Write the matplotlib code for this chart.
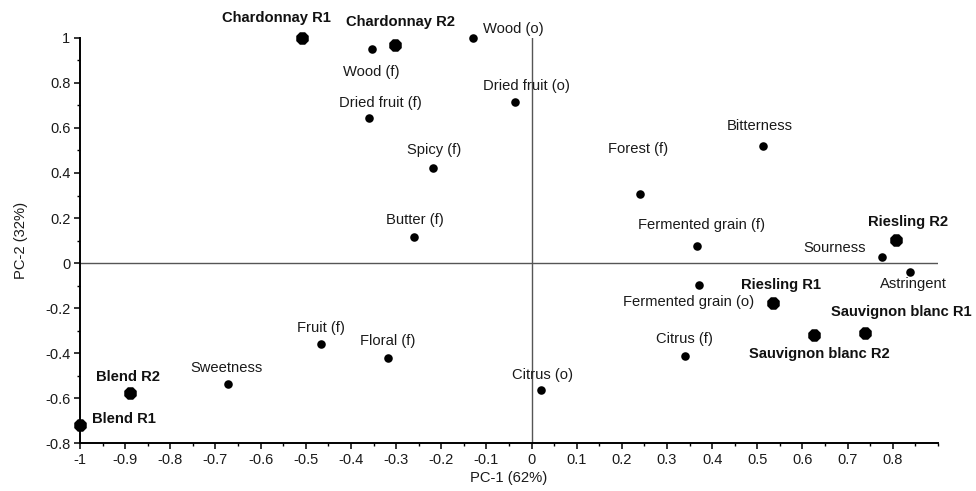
import matplotlib
matplotlib.use("Agg")
import matplotlib.pyplot as plt
from matplotlib.ticker import MultipleLocator

plt.rcParams['font.family'] = ['Liberation Sans', 'DejaVu Sans']

# Sensory attributes (loadings)
attr_names = ["Wood (f)", "Wood (o)", "Dried fruit (f)", "Dried fruit (o)", "Spicy (f)",
              "Butter (f)", "Forest (f)", "Bitterness", "Fermented grain (f)", "Sourness",
              "Astringent", "Fermented grain (o)", "Citrus (f)", "Sweetness", "Fruit (f)",
              "Floral (f)", "Citrus (o)"]
attr_pc1 = [-0.353, -0.129, -0.361, -0.037, -0.218, -0.261, 0.240, 0.512, 0.366, 0.777,
            0.838, 0.371, 0.339, -0.672, -0.466, -0.319, 0.021]
attr_pc2 = [0.949, 1.000, 0.644, 0.713, 0.423, 0.118, 0.306, 0.522, 0.076, 0.028,
            -0.040, -0.095, -0.413, -0.535, -0.358, -0.422, -0.561]

# Wine samples (scores)
wine_names = ["Chardonnay R1", "Chardonnay R2", "Riesling R2", "Riesling R1",
              "Sauvignon blanc R1", "Sauvignon blanc R2", "Blend R2", "Blend R1"]
wine_pc1 = [-0.508, -0.302, 0.807, 0.535, 0.738, 0.626, -0.890, -0.999]
wine_pc2 = [1.000, 0.968, 0.101, -0.177, -0.309, -0.321, -0.575, -0.717]

x_ticks = [-1, -0.9, -0.8, -0.7, -0.6, -0.5, -0.4, -0.3, -0.2, -0.1, 0, 0.1, 0.2, 0.3, 0.4, 0.5, 0.6, 0.7, 0.8]
y_ticks = [-0.8, -0.6, -0.4, -0.2, 0, 0.2, 0.4, 0.6, 0.8, 1]

# label offsets in points (dx, dy) relative to each marker
attr_offsets = {
    "Wood (f)": (-1, -16), "Wood (o)": (29, 6), "Dried fruit (f)": (8.6, 11),
    "Dried fruit (o)": (8.6, 11.7), "Spicy (f)": (0.6, 12.7), "Butter (f)": (0.5, 12),
    "Forest (f)": (-1.7, 32.2), "Bitterness": (-2, 13.9), "Fermented grain (f)": (3.1, 15.1),
    "Sourness": (-34.7, 6.7), "Astringent": (2.7, -8.6), "Fermented grain (o)": (-7.6, -12.7),
    "Citrus (f)": (-0.2, 12.7), "Sweetness": (-1.4, 11), "Fruit (f)": (0.2, 11.1),
    "Floral (f)": (0, 12.7), "Citrus (o)": (1, 10.1),
}
wine_offsets = {
    "Chardonnay R1": (-18.4, 14.6), "Chardonnay R2": (3.5, 16.8), "Riesling R2": (8.4, 13.5),
    "Riesling R1": (5.5, 13.2), "Sauvignon blanc R1": (26.1, 15.1),
    "Sauvignon blanc R2": (3.6, -13.7), "Blend R2": (-1.4, 11.2), "Blend R1": (31, 4),
}

fig = plt.figure(figsize=(9.76, 4.91), dpi=100)
ax = fig.add_axes([0.082, 0.097, 0.879, 0.826])

ax.set_xlim(-1, 0.9)
ax.set_ylim(-0.8, 1.0)

# reference lines through the origin
ax.axhline(0, color="#555555", lw=1.0, zorder=1)
ax.axvline(0, color="#555555", lw=1.0, zorder=1)

ax.scatter(attr_pc1, attr_pc2, s=38, color="black", zorder=3, clip_on=False, linewidths=0)
ax.scatter(wine_pc1, wine_pc2, s=95, color="black", marker="8", zorder=3, clip_on=False, linewidths=0)

for name, x, y in zip(attr_names, attr_pc1, attr_pc2):
    dx, dy = attr_offsets[name]
    ax.annotate(name, (x, y), xytext=(dx, dy), textcoords="offset points",
                ha="center", va="center", fontsize=10.6, color="#1a1a1a")

for name, x, y in zip(wine_names, wine_pc1, wine_pc2):
    dx, dy = wine_offsets[name]
    ax.annotate(name, (x, y), xytext=(dx, dy), textcoords="offset points",
                ha="center", va="center", fontsize=10.6, fontweight="bold", color="#111111",
                annotation_clip=False)

ax.spines["top"].set_visible(False)
ax.spines["right"].set_visible(False)
ax.spines["left"].set_linewidth(1.4)
ax.spines["bottom"].set_linewidth(1.4)

ax.set_xticks(x_ticks)
ax.set_xticklabels([f"{t:g}" for t in x_ticks])
ax.set_yticks(y_ticks)
ax.set_yticklabels([f"{t:g}" for t in y_ticks])
ax.xaxis.set_minor_locator(MultipleLocator(0.05))
ax.yaxis.set_minor_locator(MultipleLocator(0.1))
ax.tick_params(which="major", direction="out", length=4, width=1.1, labelsize=10.5, pad=3,
               labelcolor="#1a1a1a")
ax.tick_params(which="minor", direction="out", length=2.5, width=1.0)

ax.set_xlabel("PC-1 (62%)", fontsize=10.6, labelpad=3, color="#1a1a1a")
ax.set_ylabel("PC-2 (32%)", fontsize=10.6, labelpad=12, color="#1a1a1a")

fig.savefig("out.png", dpi=100)
